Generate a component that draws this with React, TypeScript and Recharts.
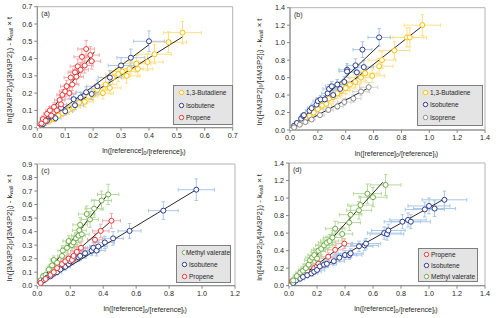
import { ScatterChart, Scatter, XAxis, YAxis, ErrorBar, ReferenceLine, ReferenceArea, Legend } from 'recharts';

// [x, y, x error, y error]
type Pt = [number, number, number, number];
type Fit = [number, number, number, number];

// ---- panel (a): 3M3P2 ----
const butadieneA: Pt[] = [
  [0, 0, 0, 0], [0.02, 0.02, 0.01, 0.01], [0.04, 0.035, 0.012, 0.012], [0.06, 0.05, 0.015, 0.015],
  [0.075, 0.07, 0.018, 0.018], [0.09, 0.085, 0.02, 0.02], [0.11, 0.1, 0.022, 0.022], [0.13, 0.12, 0.025, 0.025],
  [0.15, 0.145, 0.028, 0.028], [0.17, 0.15, 0.03, 0.03], [0.185, 0.18, 0.032, 0.03], [0.2, 0.19, 0.035, 0.032],
  [0.215, 0.22, 0.036, 0.034], [0.235, 0.2, 0.038, 0.034], [0.245, 0.25, 0.04, 0.036], [0.26, 0.23, 0.04, 0.036],
  [0.27, 0.29, 0.042, 0.04], [0.29, 0.31, 0.045, 0.042], [0.305, 0.325, 0.046, 0.042], [0.32, 0.3, 0.048, 0.042],
  [0.33, 0.34, 0.05, 0.045], [0.355, 0.37, 0.052, 0.048], [0.36, 0.34, 0.054, 0.046], [0.395, 0.38, 0.056, 0.05],
  [0.42, 0.425, 0.06, 0.055], [0.47, 0.495, 0.065, 0.06], [0.52, 0.55, 0.068, 0.065],
];
const isobuteneA: Pt[] = [
  [0, 0, 0, 0], [0.02, 0.02, 0.012, 0.012], [0.035, 0.04, 0.015, 0.015], [0.05, 0.065, 0.018, 0.018],
  [0.065, 0.055, 0.02, 0.018], [0.085, 0.115, 0.024, 0.022], [0.1, 0.095, 0.026, 0.022], [0.13, 0.165, 0.03, 0.028],
  [0.135, 0.13, 0.03, 0.026], [0.155, 0.175, 0.032, 0.03], [0.175, 0.205, 0.035, 0.032], [0.195, 0.195, 0.036, 0.032],
  [0.215, 0.24, 0.038, 0.036], [0.26, 0.29, 0.042, 0.04], [0.3, 0.36, 0.046, 0.045], [0.335, 0.405, 0.05, 0.05],
  [0.4, 0.5, 0.055, 0.06],
];
const propeneA: Pt[] = [
  [0, 0, 0, 0], [0.015, 0.025, 0.01, 0.015], [0.02, 0.05, 0.01, 0.018], [0.03, 0.04, 0.012, 0.018],
  [0.035, 0.08, 0.013, 0.02], [0.045, 0.1, 0.014, 0.022], [0.05, 0.07, 0.015, 0.02], [0.06, 0.12, 0.016, 0.024],
  [0.07, 0.1, 0.017, 0.022], [0.08, 0.16, 0.018, 0.028], [0.085, 0.135, 0.019, 0.026], [0.09, 0.19, 0.02, 0.03],
  [0.1, 0.21, 0.021, 0.032], [0.105, 0.24, 0.022, 0.034], [0.115, 0.2, 0.022, 0.032], [0.12, 0.29, 0.024, 0.038],
  [0.125, 0.25, 0.024, 0.036], [0.135, 0.32, 0.025, 0.04], [0.14, 0.295, 0.026, 0.04], [0.145, 0.355, 0.027, 0.042],
  [0.155, 0.335, 0.028, 0.042], [0.16, 0.41, 0.029, 0.046], [0.17, 0.36, 0.03, 0.044], [0.175, 0.455, 0.03, 0.05],
  [0.19, 0.42, 0.032, 0.048], [0.195, 0.385, 0.032, 0.046],
];
const butadieneAFit: Fit = [0, 0, 0.52, 0.525];
const isobuteneAFit: Fit = [0, 0, 0.4, 0.48];
const propeneAFit: Fit = [0.005, 0, 0.205, 0.44];

// ---- panel (b): 4M3P2 ----
const butadieneB: Pt[] = [
  [0, 0, 0, 0], [0.03, 0.03, 0.015, 0.015], [0.06, 0.07, 0.02, 0.02], [0.09, 0.1, 0.025, 0.025],
  [0.11, 0.14, 0.028, 0.028], [0.14, 0.16, 0.03, 0.03], [0.17, 0.2, 0.035, 0.035], [0.2, 0.24, 0.04, 0.04],
  [0.23, 0.28, 0.045, 0.045], [0.26, 0.3, 0.05, 0.05], [0.28, 0.36, 0.05, 0.05], [0.31, 0.38, 0.055, 0.055],
  [0.34, 0.42, 0.06, 0.06], [0.37, 0.45, 0.06, 0.06], [0.4, 0.48, 0.065, 0.065], [0.43, 0.52, 0.07, 0.07],
  [0.47, 0.55, 0.075, 0.07], [0.51, 0.6, 0.08, 0.075], [0.54, 0.65, 0.085, 0.08], [0.59, 0.62, 0.09, 0.08],
  [0.64, 0.73, 0.1, 0.09], [0.66, 0.8, 0.1, 0.095], [0.75, 0.91, 0.11, 0.1], [0.84, 1.06, 0.12, 0.11],
  [0.86, 1.06, 0.12, 0.11], [0.95, 1.2, 0.13, 0.12],
];
const isobuteneB: Pt[] = [
  [0, 0, 0, 0], [0.03, 0.05, 0.015, 0.02], [0.05, 0.08, 0.018, 0.022], [0.08, 0.13, 0.02, 0.025],
  [0.095, 0.16, 0.022, 0.028], [0.1, 0.17, 0.024, 0.03], [0.14, 0.22, 0.028, 0.034], [0.155, 0.25, 0.03, 0.036],
  [0.19, 0.29, 0.034, 0.04], [0.2, 0.33, 0.035, 0.042], [0.22, 0.35, 0.038, 0.044], [0.25, 0.35, 0.04, 0.045],
  [0.27, 0.42, 0.042, 0.05], [0.28, 0.47, 0.044, 0.052], [0.3, 0.5, 0.046, 0.055], [0.31, 0.4, 0.046, 0.05],
  [0.34, 0.52, 0.05, 0.058], [0.36, 0.47, 0.052, 0.056], [0.39, 0.55, 0.055, 0.06], [0.41, 0.69, 0.058, 0.07],
  [0.41, 0.67, 0.058, 0.068], [0.47, 0.74, 0.062, 0.075], [0.48, 0.66, 0.064, 0.07], [0.52, 0.92, 0.068, 0.09],
  [0.53, 0.72, 0.07, 0.075], [0.64, 1.06, 0.08, 0.1],
];
const isopreneB: Pt[] = [
  [0, 0, 0, 0], [0.03, 0.03, 0.012, 0.012], [0.07, 0.06, 0.016, 0.015], [0.11, 0.09, 0.02, 0.018],
  [0.155, 0.12, 0.025, 0.022], [0.215, 0.17, 0.03, 0.026], [0.275, 0.23, 0.036, 0.03], [0.34, 0.27, 0.042, 0.034],
  [0.39, 0.32, 0.048, 0.038], [0.455, 0.36, 0.055, 0.042], [0.51, 0.44, 0.06, 0.048], [0.565, 0.49, 0.065, 0.055],
];
const butadieneBFit: Fit = [0, 0, 0.95, 1.19];
const isobuteneBFit: Fit = [0, 0, 0.64, 0.97];
const isopreneBFit: Fit = [0, 0, 0.56, 0.48];

// ---- panel (c): 3M3P2 ----
const valerateC: Pt[] = [
  [0, 0, 0, 0], [0.02, 0.04, 0.01, 0.015], [0.035, 0.07, 0.012, 0.018], [0.05, 0.08, 0.015, 0.02],
  [0.07, 0.12, 0.018, 0.024], [0.09, 0.15, 0.02, 0.026], [0.1, 0.19, 0.022, 0.03], [0.12, 0.17, 0.024, 0.028],
  [0.15, 0.22, 0.028, 0.032], [0.155, 0.26, 0.03, 0.036], [0.18, 0.28, 0.032, 0.038], [0.19, 0.33, 0.034, 0.04],
  [0.21, 0.3, 0.036, 0.04], [0.22, 0.32, 0.038, 0.042], [0.235, 0.35, 0.04, 0.045], [0.25, 0.37, 0.042, 0.048],
  [0.255, 0.41, 0.042, 0.05], [0.26, 0.45, 0.044, 0.055], [0.27, 0.38, 0.045, 0.05], [0.3, 0.53, 0.05, 0.06],
  [0.32, 0.49, 0.052, 0.058], [0.345, 0.57, 0.055, 0.065], [0.39, 0.63, 0.06, 0.07], [0.43, 0.675, 0.065, 0.075],
];
const isobuteneC: Pt[] = [
  [0, 0, 0, 0], [0.02, 0.02, 0.012, 0.01], [0.04, 0.04, 0.015, 0.012], [0.06, 0.06, 0.018, 0.014],
  [0.08, 0.07, 0.02, 0.015], [0.1, 0.09, 0.022, 0.018], [0.12, 0.1, 0.025, 0.02], [0.14, 0.12, 0.028, 0.022],
  [0.17, 0.14, 0.03, 0.024], [0.19, 0.16, 0.032, 0.026], [0.2, 0.18, 0.034, 0.028], [0.22, 0.2, 0.036, 0.03],
  [0.25, 0.21, 0.04, 0.032], [0.26, 0.22, 0.04, 0.032], [0.29, 0.24, 0.045, 0.035], [0.33, 0.26, 0.05, 0.038],
  [0.34, 0.28, 0.05, 0.04], [0.36, 0.26, 0.052, 0.04], [0.37, 0.29, 0.054, 0.042], [0.41, 0.32, 0.058, 0.045],
  [0.46, 0.35, 0.062, 0.05], [0.56, 0.405, 0.07, 0.055], [0.765, 0.555, 0.09, 0.065], [0.965, 0.71, 0.11, 0.08],
];
const propeneC: Pt[] = [
  [0, 0, 0, 0], [0.02, 0.02, 0.012, 0.015], [0.05, 0.05, 0.016, 0.018], [0.08, 0.08, 0.02, 0.022],
  [0.1, 0.1, 0.022, 0.025], [0.12, 0.13, 0.025, 0.028], [0.15, 0.16, 0.028, 0.03], [0.17, 0.18, 0.03, 0.032],
  [0.19, 0.2, 0.032, 0.035], [0.21, 0.19, 0.034, 0.035], [0.22, 0.22, 0.036, 0.038], [0.24, 0.25, 0.038, 0.04],
  [0.265, 0.28, 0.04, 0.042], [0.35, 0.34, 0.045, 0.048], [0.385, 0.405, 0.05, 0.05], [0.45, 0.48, 0.055, 0.055],
];
const valerateCFit: Fit = [0, 0, 0.43, 0.68];
const isobuteneCFit: Fit = [0, 0, 0.965, 0.71];
const propeneCFit: Fit = [0, 0, 0.45, 0.48];

// ---- panel (d): 4M3P2 ----
const propeneD: Pt[] = [
  [0, 0, 0, 0], [0.02, 0.05, 0.015, 0.02], [0.07, 0.1, 0.02, 0.025], [0.1, 0.13, 0.025, 0.03],
  [0.13, 0.17, 0.03, 0.032], [0.18, 0.2, 0.035, 0.035], [0.2, 0.22, 0.04, 0.038], [0.21, 0.25, 0.04, 0.04],
  [0.28, 0.33, 0.05, 0.045], [0.33, 0.41, 0.055, 0.05], [0.395, 0.48, 0.06, 0.055],
];
const isobuteneD: Pt[] = [
  [0, 0, 0, 0], [0.03, 0.03, 0.02, 0.015], [0.05, 0.06, 0.025, 0.02], [0.08, 0.08, 0.03, 0.022],
  [0.1, 0.1, 0.035, 0.025], [0.13, 0.12, 0.04, 0.028], [0.16, 0.14, 0.045, 0.03], [0.18, 0.16, 0.05, 0.032],
  [0.2, 0.18, 0.055, 0.035], [0.22, 0.22, 0.06, 0.038], [0.25, 0.24, 0.065, 0.04], [0.27, 0.25, 0.07, 0.042],
  [0.32, 0.28, 0.075, 0.045], [0.36, 0.32, 0.08, 0.048], [0.4, 0.35, 0.085, 0.05], [0.43, 0.35, 0.09, 0.05],
  [0.44, 0.37, 0.09, 0.052], [0.5, 0.45, 0.1, 0.058], [0.54, 0.46, 0.1, 0.06], [0.55, 0.48, 0.105, 0.06],
  [0.68, 0.6, 0.12, 0.07], [0.7, 0.59, 0.12, 0.07], [0.71, 0.63, 0.12, 0.072], [0.81, 0.73, 0.13, 0.08],
  [0.85, 0.75, 0.13, 0.08], [0.87, 0.73, 0.14, 0.08], [0.97, 0.87, 0.14, 0.085], [1.0, 0.91, 0.15, 0.09],
  [1.04, 0.88, 0.15, 0.09], [1.11, 0.98, 0.16, 0.1],
];
const valerateD: Pt[] = [
  [0, 0, 0, 0], [0.03, 0.06, 0.02, 0.03], [0.055, 0.11, 0.025, 0.035], [0.08, 0.15, 0.03, 0.04],
  [0.1, 0.17, 0.032, 0.045], [0.12, 0.2, 0.035, 0.05], [0.14, 0.24, 0.04, 0.05], [0.15, 0.29, 0.04, 0.055],
  [0.165, 0.32, 0.045, 0.06], [0.18, 0.35, 0.045, 0.06], [0.2, 0.31, 0.05, 0.06], [0.21, 0.4, 0.05, 0.065],
  [0.23, 0.42, 0.055, 0.07], [0.25, 0.46, 0.06, 0.07], [0.27, 0.49, 0.06, 0.075], [0.29, 0.51, 0.065, 0.075],
  [0.31, 0.55, 0.065, 0.08], [0.33, 0.65, 0.07, 0.085], [0.38, 0.59, 0.075, 0.08], [0.43, 0.72, 0.08, 0.09],
  [0.44, 0.81, 0.08, 0.095], [0.5, 0.86, 0.09, 0.1], [0.51, 0.92, 0.09, 0.1], [0.56, 1.05, 0.1, 0.11],
  [0.6, 1.01, 0.1, 0.11], [0.69, 1.15, 0.11, 0.12],
];
const propeneDFit: Fit = [0, 0, 0.39, 0.47];
const isobuteneDFit: Fit = [0, 0, 1.11, 0.99];
const valerateDFit: Fit = [0, 0, 0.67, 1.18];

// ticks
const ticks07 = [0, 0.1, 0.2, 0.3, 0.4, 0.5, 0.6, 0.7];
const ticks09 = [0, 0.1, 0.2, 0.3, 0.4, 0.5, 0.6, 0.7, 0.8, 0.9];
const ticks12 = [0, 0.2, 0.4, 0.6, 0.8, 1.0, 1.2];
const ticks14 = [0, 0.2, 0.4, 0.6, 0.8, 1.0, 1.2, 1.4];

const FONT = 'Arial, "Liberation Sans", sans-serif';
const TXT = '#262626';
const AXIS = '#868686';

const BUT = { name: '1,3-Butadiene', mark: '#ffc000', err: '#ffe08a' };
const ISO = { name: 'Isobutene', mark: '#2f3b8c', err: '#a9c8ea' };
const PRO = { name: 'Propene', mark: '#ee3434', err: '#f6a8a8' };
const ISP = { name: 'Isoprene', mark: '#8c8c8c', err: '#d2d2d2' };
const MVA = { name: 'Methyl valerate', mark: '#70ad47', err: '#b6d99e' };

type Series = { name: string; mark: string; err: string; data: Pt[]; fit: Fit };

const panels = [
  {
    tag: '(a)', species: '3M3P2', left: 0, top: 0, width: 250, height: 158,
    margin: { top: 6.7, right: 17.3, bottom: 10.3, left: 15.3 },
    xTicks: ticks07, yTicks: ticks07,
    legend: { left: 173, top: 85, w: 60, h: 40, first: 6.7, gap: 12.8 },
    series: [
      { ...BUT, data: butadieneA, fit: butadieneAFit },
      { ...ISO, data: isobuteneA, fit: isobuteneAFit },
      { ...PRO, data: propeneA, fit: propeneAFit },
    ] as Series[],
  },
  {
    tag: '(b)', species: '4M3P2', left: 250, top: 0, width: 250, height: 158,
    margin: { top: 7.7, right: 15, bottom: 8, left: 18 },
    xTicks: ticks14, yTicks: ticks14,
    legend: { left: 167, top: 85, w: 66, h: 41, first: 6.7, gap: 12.5 },
    series: [
      { ...BUT, data: butadieneB, fit: butadieneBFit },
      { ...ISO, data: isobuteneB, fit: isobuteneBFit },
      { ...ISP, data: isopreneB, fit: isopreneBFit },
    ] as Series[],
  },
  {
    tag: '(c)', species: '3M3P2', left: 0, top: 158, width: 250, height: 160,
    margin: { top: 6, right: 15, bottom: 12.3, left: 15.3 },
    xTicks: ticks12, yTicks: ticks09,
    legend: { left: 176, top: 87, w: 55, h: 38, first: 6.3, gap: 12 },
    series: [
      { ...MVA, data: valerateC, fit: valerateCFit },
      { ...ISO, data: isobuteneC, fit: isobuteneCFit },
      { ...PRO, data: propeneC, fit: propeneCFit },
    ] as Series[],
  },
  {
    tag: '(d)', species: '4M3P2', left: 250, top: 158, width: 250, height: 160,
    margin: { top: 5, right: 15, bottom: 12.3, left: 17 },
    xTicks: ticks14, yTicks: ticks14,
    legend: { left: 168, top: 90, w: 60, h: 34, first: 6, gap: 11 },
    series: [
      { ...PRO, data: propeneD, fit: propeneDFit },
      { ...ISO, data: isobuteneD, fit: isobuteneDFit },
      { ...MVA, data: valerateD, fit: valerateDFit },
    ] as Series[],
  },
];

const toRows = (pts: Pt[]) => pts.map(([x, y, ex, ey]) => ({ x, y, ex, ey }));
const fmt = (v: number) => v.toFixed(1);

const LegendBox = ({ items, box }: { items: Series[]; box: any }) => (
  <div
    style={{
      width: box.w, height: box.h, boxSizing: 'border-box', background: '#e4e4e4',
      border: '1px solid #7f7f7f', paddingTop: box.first - box.gap / 2 - 1, fontFamily: FONT, fontSize: 6.5, color: TXT,
    }}
  >
    {items.map((s) => (
      <div key={s.name} style={{ height: box.gap, display: 'flex', alignItems: 'center', paddingLeft: 4 }}>
        <svg width={7} height={7} style={{ marginRight: 1 }}>
          <circle cx={3.5} cy={3.5} r={2.2} fill="#fff" stroke={s.mark} strokeWidth={1} />
        </svg>
        <span style={{ whiteSpace: 'nowrap' }}>{s.name}</span>
      </div>
    ))}
  </div>
);

const Panel = ({ p }: { p: (typeof panels)[number] }) => {
  const { margin, width, height } = p;
  const plotL = margin.left + 22;
  const plotR = width - margin.right;
  const plotT = margin.top;
  const plotB = height - margin.bottom - 20;
  const xMax = p.xTicks[p.xTicks.length - 1];
  const yMax = p.yTicks[p.yTicks.length - 1];
  const xc = (plotL + plotR) / 2 + 9;
  const xy = plotB + 23;
  const yx = 9.5;
  const yc = (plotT + plotB) / 2 + 3;
  const sub = { fontSize: 5.2 };

  return (
    <div style={{ position: 'absolute', left: p.left, top: p.top }}>
      <ScatterChart width={width} height={height} margin={margin} style={{ fontFamily: FONT }}>
        <XAxis
          type="number" dataKey="x" domain={[0, xMax]} ticks={p.xTicks} interval={0} allowDataOverflow
          tickFormatter={fmt} height={20} tickSize={3} tickMargin={2}
          axisLine={{ stroke: AXIS }} tickLine={{ stroke: AXIS }} tick={{ fontSize: 7.2, fill: TXT }}
          label={{
            content: () => (
              <text x={xc} y={xy} textAnchor="middle" dominantBaseline="central" fontSize={7} fill={TXT}>
                ln([reference]<tspan dy={1.8} {...sub}>0</tspan>
                <tspan dy={-1.8}>/[reference]</tspan>
                <tspan dy={1.8} {...sub}>t</tspan>
                <tspan dy={-1.8}>)</tspan>
              </text>
            ),
          }}
        />
        <YAxis
          type="number" dataKey="y" domain={[0, yMax]} ticks={p.yTicks} interval={0} allowDataOverflow
          tickFormatter={fmt} width={22} tickSize={3} tickMargin={2}
          axisLine={{ stroke: AXIS }} tickLine={{ stroke: AXIS }} tick={{ fontSize: 7.2, fill: TXT }}
          label={{
            content: () => (
              <text
                x={yx} y={yc} transform={`rotate(-90 ${yx} ${yc})`} textAnchor="middle"
                dominantBaseline="central" fontSize={7.8} fill={TXT}
              >
                ln([{p.species}]<tspan dy={1.8} {...sub}>0</tspan>
                <tspan dy={-1.8}>/[{p.species}]</tspan>
                <tspan dy={1.8} {...sub}>t</tspan>
                <tspan dy={-1.8}>) - k</tspan>
                <tspan dy={1.8} {...sub}>wall</tspan>
                <tspan dy={-1.8}> × t</tspan>
              </text>
            ),
          }}
        />
        <ReferenceArea
          x1={0} x2={xMax} y1={0} y2={yMax} fill="none" stroke="#b4b4b4" strokeWidth={1} ifOverflow="visible"
          label={{ value: p.tag, position: 'insideTopLeft', offset: 4, fontSize: 7, fill: TXT }}
        />
        {p.series.map((s) => (
          <Scatter
            key={s.name} name={s.name} data={toRows(s.data)} isAnimationActive={false}
            shape={(d: any) => <circle cx={d.cx} cy={d.cy} r={2.5} fill="#fff" stroke={s.mark} strokeWidth={1} />}
          >
            <ErrorBar dataKey="ex" direction="x" width={1.8} stroke={s.err} strokeWidth={1} isAnimationActive={false} />
            <ErrorBar dataKey="ey" direction="y" width={1.8} stroke={s.err} strokeWidth={1} isAnimationActive={false} />
          </Scatter>
        ))}
        {p.series.map((s) => (
          <ReferenceLine
            key={'fit-' + s.name}
            segment={[{ x: s.fit[0], y: s.fit[1] }, { x: s.fit[2], y: s.fit[3] }]}
            stroke="#111" strokeWidth={0.9} ifOverflow="visible"
          />
        ))}
        <Legend
          layout="vertical" align="center" verticalAlign="middle"
          wrapperStyle={{ left: p.legend.left, top: p.legend.top, width: p.legend.w, height: p.legend.h }}
          content={() => <LegendBox items={p.series} box={p.legend} />}
        />
      </ScatterChart>
    </div>
  );
};

export default function App() {
  return (
    <div style={{ position: 'absolute', left: 0, top: 0, width: 500, height: 318, background: '#fff', overflow: 'hidden' }}>
      {panels.map((p) => (
        <Panel key={p.tag} p={p} />
      ))}
    </div>
  );
}
